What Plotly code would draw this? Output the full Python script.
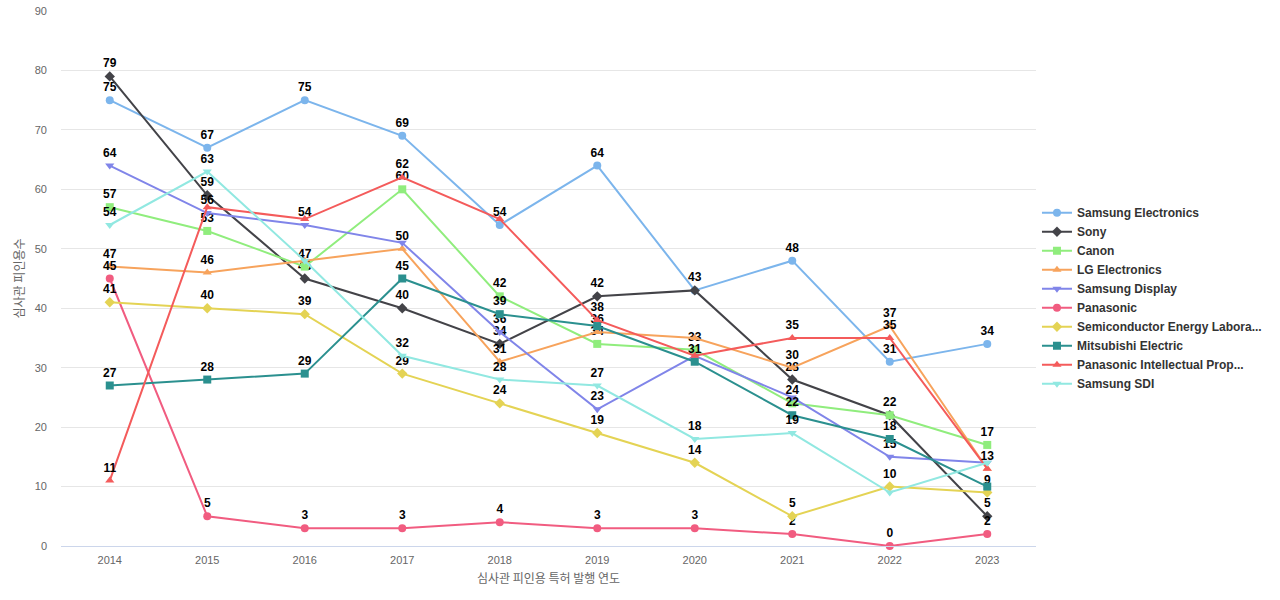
import plotly.graph_objects as go

years = [2014, 2015, 2016, 2017, 2018, 2019, 2020, 2021, 2022, 2023]

samsung_electronics = [75, 67, 75, 69, 54, 64, 43, 48, 31, 34]
sony = [79, 59, 45, 40, 34, 42, 43, 28, 22, 5]
canon = [57, 53, 47, 60, 42, 34, 33, 24, 22, 17]
lg_electronics = [47, 46, 48, 50, 31, 36, 35, 30, 37, 13]
samsung_display = [64, 56, 54, 51, 36, 23, 32, 25, 15, 14]
panasonic = [45, 5, 3, 3, 4, 3, 3, 2, 0, 2]
sel = [41, 40, 39, 29, 24, 19, 14, 5, 10, 9]
mitsubishi = [27, 28, 29, 45, 39, 37, 31, 22, 18, 10]
panasonic_ip = [11, 57, 55, 62, 55, 38, 32, 35, 35, 13]
samsung_sdi = [54, 63, 48, 32, 28, 27, 18, 19, 9, 14]

series_names = [
    "Samsung Electronics", "Sony", "Canon", "LG Electronics", "Samsung Display",
    "Panasonic", "Semiconductor Energy Labora...", "Mitsubishi Electric",
    "Panasonic Intellectual Prop...", "Samsung SDI",
]
series_values = [
    samsung_electronics, sony, canon, lg_electronics, samsung_display,
    panasonic, sel, mitsubishi, panasonic_ip, samsung_sdi,
]
colors = ["#7cb5ec", "#434348", "#90ed7d", "#f7a35c", "#8085e9",
          "#f15c80", "#e4d354", "#2b908f", "#f45b5b", "#91e8e1"]
symbols = ["circle", "diamond", "square", "triangle-up", "triangle-down",
           "circle", "diamond", "square", "triangle-up", "triangle-down"]

# data labels hidden because they overlap others (series index -> year indices)
hidden_labels = {
    1: [6, 8],
    3: [2, 6, 9],
    4: [3, 6, 7, 9],
    7: [5, 9],
    8: [1, 2, 4, 6],
    9: [2, 8, 9],
}

fig = go.Figure()
for i, (name, vals) in enumerate(zip(series_names, series_values)):
    hide = hidden_labels.get(i, [])
    texts = ["" if j in hide else str(v) for j, v in enumerate(vals)]
    fig.add_trace(go.Scatter(
        x=years, y=vals, name=name, mode="lines+markers+text",
        text=texts, textposition="top center",
        textfont=dict(family="Liberation Sans, Arial, sans-serif", size=12, color="#000000",
                      weight="bold"),
        line=dict(color=colors[i], width=2),
        marker=dict(color=colors[i], symbol=symbols[i], size=8),
        cliponaxis=False,
    ))

fig.update_layout(
    width=1280, height=600,
    margin=dict(l=61, r=244, t=11, b=54, autoexpand=False),
    paper_bgcolor="white", plot_bgcolor="white",
    font=dict(family="Liberation Sans, Arial, Noto Sans CJK KR, sans-serif", color="#666666"),
    showlegend=True,
    legend=dict(
        x=1.001, y=0.463, xanchor="left", yanchor="middle",
        font=dict(size=12, color="#333333", weight="bold"),
        tracegroupgap=0, itemwidth=30,
        bgcolor="rgba(0,0,0,0)",
    ),
    xaxis=dict(
        range=[2013.5, 2023.5], tickmode="array", tickvals=years,
        ticktext=[str(y) for y in years],
        showgrid=False, zeroline=False,
        showline=True, linecolor="#ccd6eb", linewidth=1,
        tickfont=dict(size=11, color="#666666"),
        ticklabelstandoff=4,
        title=dict(text="심사관 피인용 특허 발행 연도",
                   font=dict(size=12, color="#666666", family="Noto Sans CJK KR, sans-serif"),
                   standoff=9),
    ),
    yaxis=dict(
        range=[0, 90.0001], tickvals=[0, 10, 20, 30, 40, 50, 60, 70, 80, 90],
        showgrid=True, gridcolor="#e6e6e6", gridwidth=1, zeroline=False,
        showline=False,
        tickfont=dict(size=11, color="#666666"),
        ticklabelstandoff=13, ticklabeloverflow="allow",
        title=dict(text="심사관 피인용수",
                   font=dict(size=12, color="#666666", family="Noto Sans CJK KR, sans-serif"),
                   standoff=7),
    ),
)

# remove the page's default body margin so the 1280x600 figure fills the window
fig.write_html(
    "out.html",
    config={"displayModeBar": False},
    post_script="document.body.style.margin='0';document.body.style.overflow='hidden';",
)
